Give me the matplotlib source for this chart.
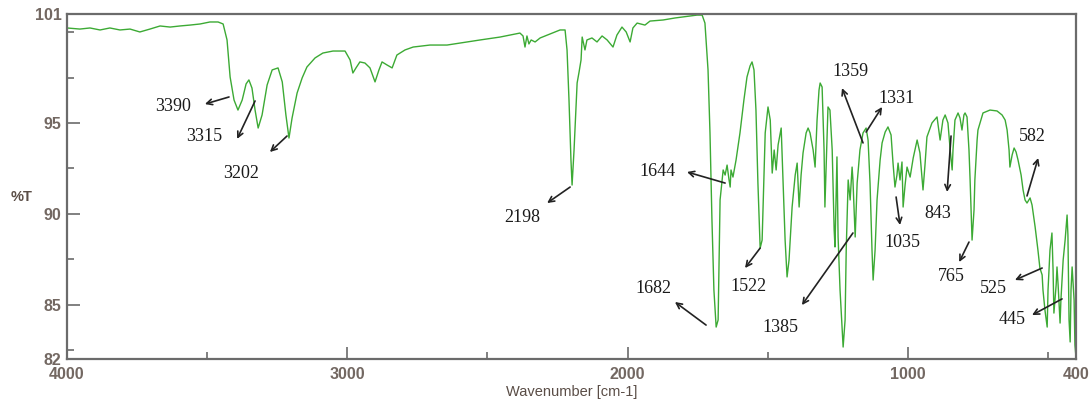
import matplotlib
matplotlib.use("Agg")
import matplotlib.pyplot as plt
from matplotlib.ticker import FixedLocator

# ---- data: FT-IR spectrum (wavenumber in cm-1, %T) ----
wavenumber = [4000, 3954, 3918, 3882, 3847, 3811, 3775, 3740, 3704, 3668, 3632, 3597, 3561, 3525,
              3490, 3461, 3443, 3429, 3418, 3404, 3390, 3375, 3361, 3351, 3340, 3329, 3318, 3304,
              3286, 3268, 3247, 3232, 3219, 3208, 3197, 3179, 3161, 3144, 3115, 3087, 3051, 3008,
              2990, 2980, 2969, 2955, 2937, 2919, 2901, 2887, 2876, 2858, 2840, 2823, 2794, 2765,
              2705, 2644, 2598, 2526, 2455, 2384, 2373, 2366, 2359, 2352, 2344, 2330, 2312, 2277,
              2241, 2223, 2216, 2209, 2202, 2198, 2191, 2180, 2173, 2166, 2162, 2152, 2145, 2127,
              2109, 2091, 2073, 2052, 2038, 2020, 2005, 1991, 1981, 1966, 1938, 1920, 1873, 1831,
              1777, 1752, 1734, 1724, 1713, 1706, 1699, 1692, 1684, 1677, 1670, 1659, 1652, 1645,
              1638, 1634, 1631, 1624, 1613, 1599, 1585, 1574, 1563, 1556, 1549, 1542, 1535, 1527,
              1520, 1509, 1499, 1491, 1484, 1477, 1470, 1463, 1452, 1445, 1438, 1431, 1424, 1413,
              1402, 1395, 1388, 1381, 1374, 1363, 1356, 1349, 1338, 1331, 1324, 1317, 1313, 1306,
              1299, 1296, 1292, 1285, 1278, 1270, 1263, 1260, 1253, 1249, 1242, 1231, 1224, 1220,
              1213, 1206, 1199, 1196, 1188, 1181, 1171, 1160, 1149, 1142, 1135, 1128, 1124, 1117,
              1110, 1099, 1092, 1081, 1071, 1060, 1053, 1046, 1039, 1035, 1028, 1021, 1017, 1010,
              1003, 992, 981, 967, 957, 946, 939, 932, 914, 896, 885, 875, 867, 857, 849, 842, 839,
              832, 821, 814, 807, 800, 796, 789, 782, 778, 771, 764, 761, 753, 750, 732, 707, 682,
              664, 653, 646, 639, 636, 628, 621, 614, 607, 596, 589, 582, 575, 564, 557, 546, 536,
              529, 521, 518, 511, 503, 500, 493, 486, 482, 479, 471, 468, 464, 457, 454, 446, 439,
              432, 429, 425, 421, 418, 414, 407, 404, 400]
transmittance = [100.23, 100.17, 100.23, 100.12, 100.23, 100.12, 100.17, 100.01, 100.17, 100.34,
                 100.28, 100.34, 100.39, 100.45, 100.56, 100.56, 100.45, 99.57, 97.53, 96.26,
                 95.71, 96.26, 97.15, 97.37, 96.92, 95.71, 94.72, 95.44, 97.09, 97.92, 98.03,
                 97.26, 95.44, 94.17, 95.27, 96.65, 97.48, 98.08, 98.58, 98.85, 98.96, 98.96,
                 98.47, 97.75, 98.03, 98.36, 98.30, 98.03, 97.26, 97.92, 98.36, 98.19, 98.03,
                 98.74, 99.02, 99.18, 99.29, 99.29, 99.40, 99.57, 99.73, 99.95, 99.79, 99.18,
                 99.79, 99.35, 99.57, 99.46, 99.68, 99.90, 100.12, 100.12, 99.02, 96.26, 92.96,
                 91.58, 93.51, 97.20, 97.81, 98.47, 99.73, 99.02, 99.57, 99.68, 99.46, 99.79,
                 99.57, 99.18, 99.84, 100.28, 100.01, 99.46, 100.23, 100.50, 100.39, 100.61,
                 100.67, 100.78, 100.89, 100.94, 100.94, 100.50, 97.92, 94.45, 89.66, 85.80,
                 83.76, 84.15, 90.76, 92.41, 92.13, 92.68, 91.86, 91.47, 92.41, 92.02, 92.96,
                 94.45, 96.26, 97.53, 98.14, 98.36, 97.92, 95.71, 91.69, 88.11, 88.55, 94.45,
                 95.88, 95.16, 92.24, 93.51, 92.41, 93.79, 94.72, 91.69, 88.55, 86.52, 87.45,
                 90.37, 92.13, 92.79, 90.37, 92.13, 93.35, 94.45, 94.72, 94.45, 93.51, 92.57,
                 95.16, 96.81, 97.20, 96.98, 93.51, 90.37, 92.41, 95.88, 95.71, 93.51, 89.10,
                 88.17, 93.13, 88.72, 85.80, 82.66, 84.15, 88.00, 91.86, 90.76, 92.57, 91.86,
                 88.72, 91.69, 93.51, 94.45, 94.72, 94.06, 91.69, 88.00, 86.35, 88.00, 90.76,
                 92.96, 93.90, 94.50, 94.78, 94.34, 92.79, 91.47, 92.13, 92.79, 91.86, 92.85,
                 90.37, 91.58, 92.57, 92.02, 93.07, 94.06, 93.35, 91.31, 92.68, 94.23, 95.00,
                 95.33, 94.06, 95.16, 95.44, 95.00, 93.51, 92.41, 93.51, 95.16, 95.55, 95.27,
                 94.61, 95.44, 95.55, 95.33, 93.51, 91.86, 88.55, 90.21, 91.86, 94.06, 94.61,
                 95.55, 95.71, 95.66, 95.44, 95.16, 94.61, 93.51, 92.57, 93.24, 93.62, 93.40,
                 92.96, 92.13, 91.31, 90.76, 90.59, 90.87, 90.48, 89.27, 88.00, 87.01, 86.63,
                 85.80, 84.70, 83.76, 85.80, 88.00, 88.94, 86.90, 84.53, 86.08, 87.07, 86.08,
                 83.98, 85.25, 87.45, 88.55, 89.93, 88.83, 84.15, 82.94, 85.80, 87.07, 85.25,
                 82.77, 82.06]

peak_labels = ["3390", "3315", "3202", "2198", "1644", "1682", "1522", "1385",
               "1359", "1331", "1035", "843", "765", "582", "525", "445"]

x_major = [4000, 3000, 2000, 1000, 400]
x_minor = [3500, 2500, 1500, 500]
y_major = [85, 90, 95]
y_minor = [82.5, 87.5, 92.5, 97.5, 100]

# ---- layout of annotations: (arrow tail on curve, arrow head, text position) ----
ann_pos = [
    ((3422, 96.43), (3508, 96.04), (3622, 95.93)),
    ((3329, 96.21), (3393, 94.12), (3511, 94.23)),
    ((3215, 94.28), (3276, 93.40), (3379, 92.24)),
    ((2205, 91.47), (2287, 90.59), (2377, 89.82)),
    ((1652, 91.69), (1788, 92.30), (1895, 92.30)),
    ((1720, 83.87), (1831, 85.14), (1909, 85.91)),
    ((1527, 88.11), (1581, 87.01), (1570, 85.97)),
    ((1196, 88.94), (1378, 84.97), (1456, 83.71)),
    ((1160, 93.90), (1235, 96.92), (1206, 97.81)),
    ((1149, 94.50), (1092, 95.88), (1039, 96.37)),
    ((1042, 90.92), (1028, 89.38), (1021, 88.39)),
    ((846, 94.28), (860, 91.20), (892, 90.04)),
    ((782, 88.44), (817, 87.34), (846, 86.52)),
    ((575, 90.98), (535, 93.07), (557, 94.28)),
    ((521, 87.01), (618, 86.35), (696, 85.91)),
    ((450, 85.31), (557, 84.42), (628, 84.15)),
]

fig = plt.figure(figsize=(10.91, 4.09), dpi=100)
ax = fig.add_axes([0.0614, 0.1222, 0.9249, 0.8436])

ax.plot(wavenumber, transmittance, color="#3caa34", lw=1.0)
ax.set_xlim(4000, 400)
ax.set_ylim(82, 101)

frame_col = "#6b6b6b"
for sp in ax.spines.values():
    sp.set_color(frame_col)
    sp.set_linewidth(1.6)

tick_col = "#5a4d46"
ax.xaxis.set_major_locator(FixedLocator(x_major))
ax.xaxis.set_minor_locator(FixedLocator(x_minor))
ax.yaxis.set_major_locator(FixedLocator([82] + y_major + [101]))
ax.yaxis.set_minor_locator(FixedLocator(y_minor))
ax.tick_params(axis="both", which="major", direction="in", length=9, width=1.2,
               color=frame_col, labelcolor=tick_col, labelsize=11.5)
ax.tick_params(axis="both", which="minor", direction="in", length=5, width=1.2,
               color=frame_col)
ax.tick_params(axis="x", which="major", pad=6)
ax.tick_params(axis="y", which="major", pad=4)
for lab in ax.get_xticklabels() + ax.get_yticklabels():
    lab.set_fontfamily("Liberation Sans")
    lab.set_fontweight("bold")
    lab.set_alpha(0.85)

ax.set_xlabel("Wavenumber [cm-1]", fontsize=10.5, color=tick_col, family="Liberation Sans",
              labelpad=2)
fig.text(0.020, 0.518, "%T", fontsize=10.5, color=tick_col, family="Liberation Sans",
         fontweight="bold", ha="center", va="center")

for lab, (tail, head, txt) in zip(peak_labels, ann_pos):
    ax.annotate("", xy=head, xytext=tail,
                arrowprops=dict(arrowstyle="->", color="#222222", lw=1.2,
                                shrinkA=0, shrinkB=0, mutation_scale=10))
    ax.text(txt[0], txt[1], lab, fontsize=13, family="Liberation Serif",
            color="#1a1a1a", ha="center", va="center")

fig.savefig("out.png", dpi=100)
